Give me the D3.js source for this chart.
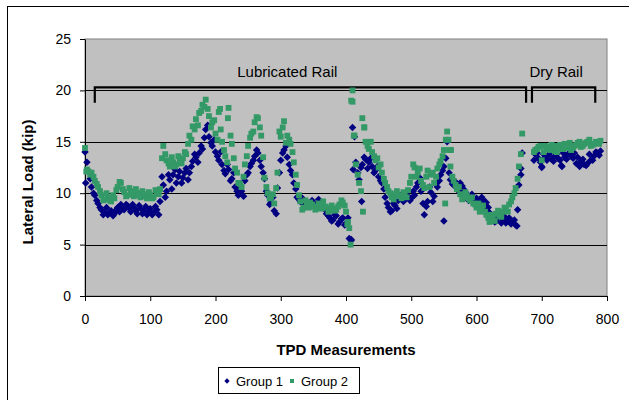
<!DOCTYPE html>
<html>
<head>
<meta charset="utf-8">
<script src="https://cdn.jsdelivr.net/npm/d3@7"></script>
<style>
  body { margin: 0; background: #fff; }
  text { font-family: "Liberation Sans", Arial, sans-serif; }
</style>
</head>
<body>
<div id="vis"></div>
<script>
// Frame
const FRAME_WIDTH = 629;
const FRAME_HEIGHT = 400;
const MARGINS = {left: 85, right: 22, top: 39, bottom: 104};
const VIS_WIDTH = FRAME_WIDTH - MARGINS.left - MARGINS.right;
const VIS_HEIGHT = FRAME_HEIGHT - MARGINS.top - MARGINS.bottom;

// TPD measurement numbers, two interleaved samplings of the run
const TPD_LUB_A = d3.range(0, 671, 5);
const TPD_LUB_B = d3.range(3, 670, 5);
const TPD_DRY_A = d3.range(690, 791, 5);
const TPD_DRY_B = d3.range(688, 790, 5);

// Group 1 lateral load (kip)
const group1LubA = [
  14.0, 12.2, 10.6, 9.8, 9.0, 8.4, 8.1, 7.9, 8.3, 8.0,
  8.6, 8.9, 8.4, 8.8, 8.2, 8.6, 8.0, 8.5, 8.3, 7.9,
  8.5, 8.1, 8.4, 9.2, 10.8, 10.2, 11.3, 11.8, 11.0, 12.1,
  11.5, 12.4, 12.0, 13.1, 13.5, 13.9, 14.3, 16.2, 15.5, 14.6,
  14.0, 13.2, 12.8, 11.9, 12.3, 11.4, 10.6, 9.8, 10.2, 11.2,
  12.0, 12.9, 13.6, 13.9, 12.6, 11.4, 9.8, 9.1, 8.3, 10.5,
  13.2, 14.2, 13.5, 12.2, 11.0, 9.6, 9.2, 8.9, 9.1, 8.8,
  9.0, 8.7, 9.2, 8.8, 8.0, 7.6, 7.4, 7.8, 7.2, 7.6,
  7.1, 5.6, 16.4, 13.0, 11.3, 12.8, 13.3, 13.0, 12.6, 12.2,
  11.6, 11.0, 9.6, 8.6, 8.3, 8.8, 9.3, 9.6, 9.4, 9.7,
  9.5, 9.8, 11.0, 10.2, 7.9, 9.2, 10.1, 9.7, 10.6, 11.8,
  12.6, 15.0, 11.3, 10.8, 10.5, 11.0, 10.4, 9.9, 9.6, 9.2,
  9.5, 9.0, 9.4, 9.1, 8.1, 7.6, 7.3, 7.8, 7.4, 7.1,
  7.6, 7.2, 6.9, 10.8, 13.9
];
const group1LubB = [
  13.0, 11.4, 10.0, 9.3, 8.6, 7.9, 8.6, 8.2, 7.8, 8.4,
  8.2, 8.5, 8.9, 8.5, 8.9, 8.3, 8.8, 8.0, 8.7, 8.3,
  7.9, 8.7, 7.9, 11.6, 9.6, 11.8, 10.4, 12.3, 11.6, 11.0,
  12.0, 11.3, 12.6, 13.8, 13.0, 14.6, 15.4, 16.6, 14.9, 15.2,
  13.6, 14.0, 12.2, 12.8, 11.2, 12.0, 10.2, 10.6, 9.7, 11.8,
  12.6, 13.2, 14.2, 13.2, 12.0, 10.2, 8.9, 9.6, 8.0, 12.0,
  13.9, 14.6, 12.8, 11.8, 10.4, 9.4, 9.5, 9.2, 8.7, 9.3,
  8.9, 9.4, 8.6, 8.4, 7.8, 7.3, 7.9, 7.0, 7.5, 6.9,
  7.6, 5.5, 15.5, 12.0, 12.5, 13.5, 12.4, 13.4, 12.0, 12.6,
  11.2, 10.4, 9.0, 8.2, 9.0, 8.5, 9.8, 9.2, 9.9, 9.3,
  10.2, 10.6, 11.5, 9.0, 8.7, 10.6, 9.2, 10.9, 11.2, 12.2,
  13.4, 12.0, 10.9, 11.1, 10.2, 10.7, 10.1, 9.3, 9.9, 9.0,
  9.2, 9.6, 8.7, 8.6, 7.8, 7.2, 7.6, 7.1, 7.7, 7.3,
  7.0, 7.4, 8.4, 12.4
];
const group1DryA = [
  13.8, 13.4, 12.6, 13.5, 13.7, 13.3, 13.6, 13.4, 12.7, 13.5,
  13.8, 13.6, 13.9, 13.5, 13.1, 12.8, 12.9, 13.2, 13.6, 13.9, 14.1
];
const group1DryB = [
  13.2, 13.9, 13.0, 13.8, 13.2, 13.9, 13.1, 13.8, 13.2, 13.9,
  13.3, 13.9, 13.4, 12.9, 12.6, 13.3, 12.7, 13.8, 13.2, 14.0, 13.7
];
// stray Group 1 readings [measurement, kip]
const group1Extra = [[1, 11.0], [408, 5.4], [411, 12.3], [424, 9.2], [550, 7.3],
  [662, 6.8], [668, 11.8], [700, 12.5], [731, 12.6]];

// Group 2 lateral load (kip)
const group2LubA = [
  14.4, 12.1, 12.0, 11.2, 10.6, 9.8, 9.4, 9.6, 9.2, 9.5,
  10.6, 11.0, 10.1, 9.8, 10.2, 9.7, 10.0, 9.6, 9.9, 9.5,
  9.8, 9.6, 10.0, 10.4, 14.6, 13.2, 12.6, 13.0, 12.8, 13.2,
  13.4, 13.8, 15.6, 16.5, 17.2, 17.8, 18.6, 19.1, 17.5, 16.9,
  15.8, 17.9, 15.0, 13.6, 18.3, 14.8, 12.4, 11.0, 10.6, 12.8,
  14.6, 15.8, 16.9, 17.3, 15.6, 11.5, 10.0, 9.6, 9.0, 12.0,
  15.5, 17.0, 15.6, 14.8, 13.0, 10.8, 9.2, 8.6, 8.9, 9.1,
  8.7, 8.5, 8.9, 9.2, 8.6, 8.3, 8.5, 8.4, 8.9, 9.1,
  8.2, 6.6, 20.0, 12.8, 11.0, 17.3, 15.0, 14.3, 14.0, 13.2,
  12.5, 12.0, 11.0, 10.2, 9.6, 9.9, 9.7, 9.5, 9.8, 10.3,
  11.6, 12.5, 12.0, 11.2, 10.5, 12.2, 11.8, 11.0, 12.4, 13.1,
  14.2, 16.0, 12.6, 11.2, 10.4, 9.9, 9.6, 9.8, 9.3, 9.0,
  8.6, 8.2, 8.8, 7.9, 7.2, 7.6, 8.0, 7.8, 8.2, 8.5,
  8.9, 9.6, 10.5, 12.6, 15.8
];
const group2LubB = [
  12.3, 11.8, 11.6, 10.9, 10.2, 9.3, 10.0, 9.3, 9.8, 10.3,
  11.1, 10.4, 9.7, 10.5, 9.9, 10.4, 9.8, 10.2, 9.7, 10.1,
  9.5, 10.3, 9.9, 13.4, 13.8, 12.9, 13.5, 12.6, 13.6, 12.9,
  14.0, 14.8, 15.2, 16.2, 16.6, 18.0, 18.4, 18.2, 16.4, 17.1,
  15.2, 16.2, 14.2, 13.0, 15.6, 13.4, 12.0, 10.9, 11.6, 13.6,
  15.4, 16.0, 17.4, 16.4, 13.5, 10.6, 9.5, 9.9, 10.5, 16.0,
  16.4, 14.9, 15.2, 14.0, 11.8, 9.8, 8.4, 9.3, 8.6, 8.9,
  8.4, 9.0, 8.5, 8.7, 8.2, 8.8, 8.3, 8.7, 9.3, 8.8,
  7.2, 19.0, 15.6, 11.8, 10.2, 16.4, 14.6, 15.0, 13.6, 13.4,
  12.8, 11.4, 10.6, 10.0, 9.4, 10.2, 9.8, 10.1, 9.6, 11.0,
  12.8, 11.6, 12.4, 10.8, 11.6, 10.6, 12.0, 11.6, 12.8, 13.6,
  15.2, 14.2, 11.6, 10.8, 10.6, 9.4, 10.1, 9.5, 9.6, 8.9,
  9.0, 8.5, 8.2, 7.6, 7.9, 7.3, 8.3, 7.7, 8.6, 8.2,
  9.2, 10.0, 11.4, 13.8
];
const group2DryA = [
  14.2, 14.5, 13.2, 14.6, 14.3, 14.7, 14.1, 14.6, 14.3, 14.8,
  14.4, 14.2, 14.6, 14.9, 14.5, 14.8, 15.0, 14.6, 14.8, 14.9, 15.1
];
const group2DryB = [
  14.0, 14.3, 14.6, 14.0, 14.5, 14.2, 14.6, 14.0, 14.7, 14.3,
  14.6, 14.9, 14.4, 14.7, 15.0, 14.6, 14.9, 15.2, 14.7, 15.0, 14.8
];
const group2Extra = [[2, 12.1], [402, 7.0], [407, 5.0], [410, 18.9], [412, 15.6],
  [426, 8.2], [428, 16.4], [552, 9.0], [557, 15.2], [561, 14.2], [207, 18.2], [219, 17.3]];

const X_TICKS = [0, 100, 200, 300, 400, 500, 600, 700, 800];
const Y_TICKS = [0, 5, 10, 15, 20, 25];

// bracket annotations (measurement ranges, kip levels)
const BRACKETS = [
  {label: "Lubricated Rail", from: 15, to: 676, labelAt: 310},
  {label: "Dry Rail", from: 685, to: 782, labelAt: 722}
];
const BRACKET_TOP = 20.3;
const BRACKET_FOOT = 18.8;

function toPoints(xs, ys) {
  return xs.map((x, i) => ({x: x, y: ys[i]}));
}
const points1 = toPoints(TPD_LUB_A, group1LubA)
  .concat(toPoints(TPD_LUB_B, group1LubB))
  .concat(toPoints(TPD_DRY_A, group1DryA))
  .concat(toPoints(TPD_DRY_B, group1DryB))
  .concat(group1Extra.map(d => ({x: d[0], y: d[1]})));
const points2 = toPoints(TPD_LUB_A, group2LubA)
  .concat(toPoints(TPD_LUB_B, group2LubB))
  .concat(toPoints(TPD_DRY_A, group2DryA))
  .concat(toPoints(TPD_DRY_B, group2DryB))
  .concat(group2Extra.map(d => ({x: d[0], y: d[1]})));

const BLUE = "#000080";
const GREEN = "#339966";

const svg = d3.select("#vis")
  .append("svg")
    .attr("width", FRAME_WIDTH)
    .attr("height", FRAME_HEIGHT);

// outer chart border (right and bottom fall outside the picture)
svg.append("rect")
  .attr("x", 7.5).attr("y", 6.5)
  .attr("width", 700).attr("height", 500)
  .attr("fill", "#fff")
  .attr("stroke", "#000");

const X_SCALE = d3.scaleLinear().domain([0, 800]).range([0, VIS_WIDTH]);
const Y_SCALE = d3.scaleLinear().domain([0, 25]).range([VIS_HEIGHT, 0]);

const plot = svg.append("g")
  .attr("transform", "translate(" + MARGINS.left + "," + MARGINS.top + ")");

plot.append("rect")
  .attr("width", VIS_WIDTH).attr("height", VIS_HEIGHT)
  .attr("fill", "#c0c0c0")
  .attr("stroke", "#808080");

// gridlines
plot.selectAll(".grid")
  .data(Y_TICKS.filter(d => d > 0 && d < 25))
  .enter()
  .append("line")
    .attr("x1", 0).attr("x2", VIS_WIDTH)
    .attr("y1", d => Math.round(Y_SCALE(d)) + 0.5)
    .attr("y2", d => Math.round(Y_SCALE(d)) + 0.5)
    .attr("stroke", "#000");

// axes
const xAxis = plot.append("g")
  .attr("transform", "translate(0," + VIS_HEIGHT + ")")
  .call(d3.axisBottom(X_SCALE).tickValues(X_TICKS).tickSize(5).tickPadding(13).tickSizeOuter(0));
const yAxis = plot.append("g")
  .call(d3.axisLeft(Y_SCALE).tickValues(Y_TICKS).tickSize(5).tickPadding(9).tickSizeOuter(0));
[xAxis, yAxis].forEach(a => {
  a.selectAll("text").attr("font-size", "14px").attr("fill", "#000")
    .attr("font-family", "'Liberation Sans', Arial, sans-serif");
  a.selectAll("line, path").attr("stroke", "#000");
});

// brackets
BRACKETS.forEach(b => {
  const x0 = X_SCALE(b.from), x1 = X_SCALE(b.to);
  const yt = Y_SCALE(BRACKET_TOP), yf = Y_SCALE(BRACKET_FOOT);
  plot.append("path")
    .attr("d", "M" + x0 + "," + yf + "V" + yt + "H" + x1 + "V" + yf)
    .attr("fill", "none")
    .attr("stroke", "#000")
    .attr("stroke-width", 2.2);
  plot.append("text")
    .attr("x", X_SCALE(b.labelAt))
    .attr("y", yt - 10)
    .attr("text-anchor", "middle")
    .attr("font-size", "15px")
    .text(b.label);
});

const diamond = d3.symbol().type(d3.symbolSquare).size(28);
const square = d3.symbol().type(d3.symbolSquare).size(34);

plot.selectAll(".g1")
  .data(points1)
  .enter()
  .append("path")
    .attr("d", diamond)
    .attr("transform", d => "translate(" + X_SCALE(d.x) + "," + Y_SCALE(d.y) + ") rotate(45)")
    .attr("fill", BLUE);

plot.selectAll(".g2")
  .data(points2)
  .enter()
  .append("path")
    .attr("d", square)
    .attr("transform", d => "translate(" + X_SCALE(d.x) + "," + Y_SCALE(d.y) + ")")
    .attr("fill", GREEN);

// axis titles
svg.append("text")
  .attr("x", MARGINS.left + VIS_WIDTH / 2)
  .attr("y", 355)
  .attr("text-anchor", "middle")
  .attr("font-size", "15px")
  .attr("font-weight", "bold")
  .text("TPD Measurements");

svg.append("text")
  .attr("transform", "translate(33,182) rotate(-90)")
  .attr("text-anchor", "middle")
  .attr("font-size", "15px")
  .attr("font-weight", "bold")
  .text("Lateral Load (kip)");

// legend
const legend = svg.append("g").attr("transform", "translate(218,367)");
legend.append("rect")
  .attr("x", 0.5).attr("y", 0.5)
  .attr("width", 141).attr("height", 26)
  .attr("fill", "#fff")
  .attr("stroke", "#000");
const LEGEND_ITEMS = [
  {name: "Group 1", color: BLUE, sym: d3.symbol().type(d3.symbolSquare).size(14), rot: 45, x: 9},
  {name: "Group 2", color: GREEN, sym: d3.symbol().type(d3.symbolSquare).size(16), rot: 0, x: 74}
];
LEGEND_ITEMS.forEach(it => {
  legend.append("path")
    .attr("d", it.sym)
    .attr("transform", "translate(" + it.x + ",14) rotate(" + it.rot + ")")
    .attr("fill", it.color);
  legend.append("text")
    .attr("x", it.x + 9)
    .attr("y", 19)
    .attr("font-size", "13px")
    .text(it.name);
});
</script>
</body>
</html>
